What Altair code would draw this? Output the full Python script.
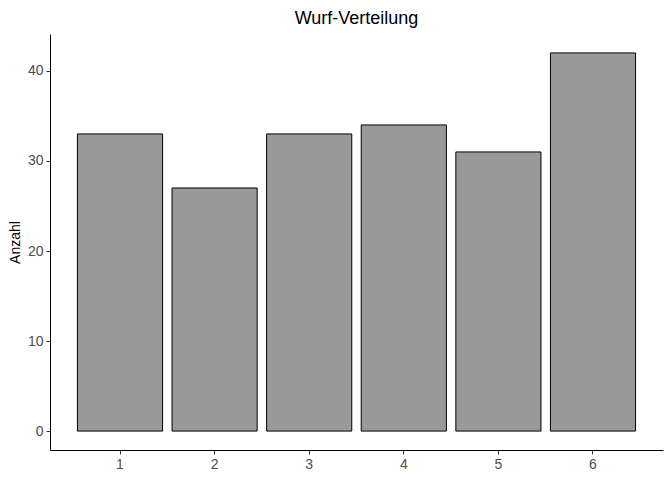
import altair as alt
import pandas as pd

augen = ["1", "2", "3", "4", "5", "6"]
anzahl = [33, 27, 33, 34, 31, 42]

df = pd.DataFrame({"Augen": augen, "Anzahl": anzahl})

bars = alt.Chart(df).mark_bar(
    color="#999999", stroke="black", strokeWidth=1
).encode(
    x=alt.X(
        "Augen:N",
        sort=augen,
        title=None,
        scale=alt.Scale(paddingInner=0.1, paddingOuter=0.29),
        axis=alt.Axis(
            labelAngle=0, labelFontSize=14, labelColor="#4D4D4D", labelPadding=3,
            tickColor="#333333", tickSize=4, domainColor="black", grid=False,
        ),
    ),
    y=alt.Y(
        "Anzahl:Q",
        title="Anzahl",
        scale=alt.Scale(domain=[-2.1, 44.1], nice=False, zero=False),
        axis=alt.Axis(
            values=[0, 10, 20, 30, 40], labelFontSize=14, labelColor="#4D4D4D",
            labelPadding=3, tickColor="#333333", tickSize=4, domainColor="black",
            grid=False, titleFontSize=14, titleFontWeight="normal", titleColor="black",
            titlePadding=5,
        ),
    ),
)

chart = bars.properties(
    width=613,
    height=416,
    title=alt.TitleParams("Wurf-Verteilung", fontSize=18, fontWeight="normal",
                          anchor="middle", offset=6, color="black"),
    autosize=alt.AutoSizeParams(type="none"),
    padding={"left": 42, "top": 26, "right": 1, "bottom": 22},
).configure(
    font="Liberation Sans"
).configure_view(
    stroke=None
)

chart.save("out.html", embed_options={"renderer": "svg", "actions": False})
